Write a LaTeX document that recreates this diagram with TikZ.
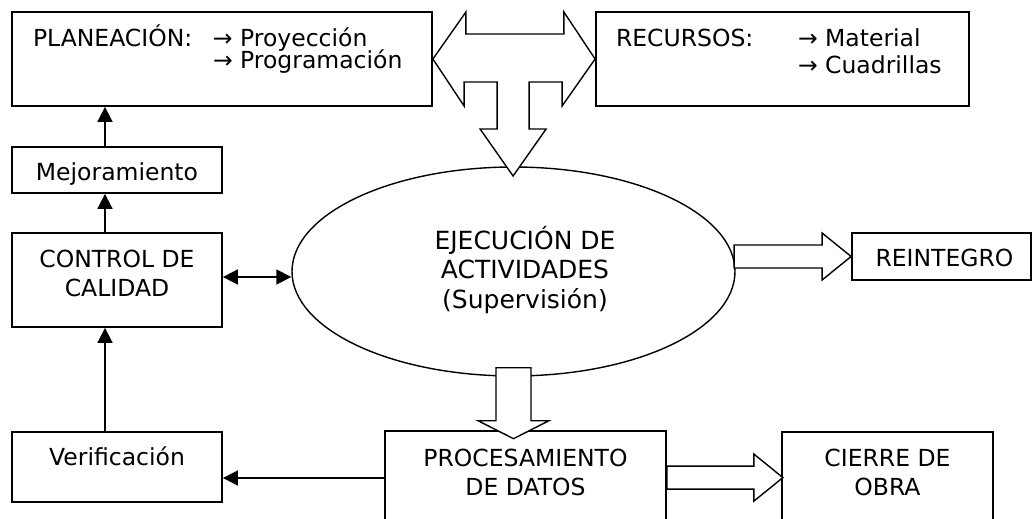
\documentclass[tikz,border=0pt]{standalone}
\usepackage{fontspec}
\setmainfont{DejaVu Sans}
\usepackage{tikz}
\usetikzlibrary{shapes, arrows.meta, positioning, calc}
\tikzstyle{caja} = [draw, line width=1.8pt, rectangle, inner xsep=0pt, inner ysep=0pt, font=\fontsize{23.5}{29}\selectfont]
\tikzstyle{elipse} = [draw, line width=1.4pt, ellipse, inner sep=0pt, font=\fontsize{25}{29.5}\selectfont]
\tikzstyle{bloque} = [draw, line width=1.4pt, fill=white, line join=miter]
\tikzstyle{flecha} = [line width=1.7pt, -{Triangle[length=15pt,width=15pt]}]
\newcommand{\renglones}[1]{\begin{tabular}[t]{@{}c@{}}#1\end{tabular}}

\begin{document}
\begin{tikzpicture}[x=1pt, y=-1pt]
	\useasboundingbox (0,0) rectangle (1034,519);
	\clip (0,0) rectangle (1034,519);
	\node [caja, minimum width=420pt, inner xsep=21pt, text height=34.7pt, text depth=59.3pt, font=\fontsize{23.5}{21.7}\selectfont] (planeacion) at (222,59) {%
		\begin{tabular}[t]{@{}p{180pt}@{}p{198pt}@{}}
			PLANEACIÓN: & → Proyección\\
			& \smash{→ Programación}
		\end{tabular}};
	\node [caja, minimum width=373pt, inner xsep=20pt, text height=34.7pt, text depth=59.3pt, font=\fontsize{23.5}{27.3}\selectfont] (recursos) at (782.5,59) {%
		\begin{tabular}[t]{@{}p{182pt}@{}p{151pt}@{}}
			RECURSOS: & → Material\\
			& → Cuadrillas
		\end{tabular}};
	\node [caja, minimum width=210pt, text height=33pt, text depth=13pt] (mejora) at (117,170) {Mejoramiento};
	\node [caja, minimum width=210pt, text height=34pt, text depth=60pt] (control) at (117,280) {\renglones{CONTROL DE\\CALIDAD}};
	\node [caja, minimum width=210pt, text height=33pt, text depth=37pt] (verif) at (117,467) {Verificación};
	\node [elipse, minimum width=443pt, minimum height=209pt, text height=20pt, text depth=65pt] (ejec) at (513.5,271.5) {\hspace*{23pt}\renglones{EJECUCIÓN DE\\ACTIVIDADES\\(Supervisión)}};
	\node [caja, minimum width=179pt, text height=33pt, text depth=14pt] (reint) at (941.5,256.5) {\hspace*{6pt}REINTEGRO};
	\node [caja, minimum width=281pt, text height=35pt, text depth=94pt] (proc) at (525.5,495.5) {\renglones{PROCESAMIENTO\\DE DATOS}};
	\node [caja, minimum width=211pt, text height=34pt, text depth=94pt] (cierre) at (887.5,496) {\renglones{CIERRE DE\\OBRA}};

	\draw [bloque] (planeacion.east) -- ++(33,-47) -- ++(0,22) -- ++(98,0) -- ++(0,-22) -- (recursos.west)
		-- ++(-33,47) -- ++(0,-24) -- ++(-33,0) -- ++(0,47) -- ++(17,0) -- ++(-33,47) -- ++(-33,-47)
		-- ++(17,0) -- ++(0,-47) -- ++(-33,0) -- ++(0,24) -- cycle;
	\draw [bloque] ([shift={(-17.5,-9)}]ejec.south) -- ++(35,0) -- ++(0,53) -- ++(18,0) -- ++(-35.5,18) -- ++(-35.5,-18) -- ++(18,0) -- cycle;
	\draw [bloque] (reint.west) -- ++(-29,-23.5) -- ++(0,12) -- ++(-88,0) -- ++(0,23) -- ++(88,0) -- ++(0,12) -- cycle;
	\draw [bloque] ([yshift=-36pt]proc.north east) -- ++(87,0) -- ++(0,-12) -- ++(29,23.5) -- ++(-29,23.5) -- ++(0,-12) -- ++(-87,0) -- cycle;

	\draw [flecha] ([xshift=-12pt]verif.north) -- ([xshift=-12pt]control.south);
	\draw [flecha] ([xshift=-12pt]control.north) -- ([xshift=-12pt]mejora.south);
	\draw [flecha] ([xshift=-12pt]mejora.north) -- ([xshift=-12pt]mejora.north |- planeacion.south);
	\draw [flecha, {Triangle[length=15pt,width=15pt]}-{Triangle[length=15pt,width=15pt]}] ([yshift=3pt]control.east) -- ([yshift=3pt]control.east -| ejec.west);
	\draw [flecha] ([yshift=-11pt]verif.east -| proc.west) -- ([yshift=-11pt]verif.east);
\end{tikzpicture}
\end{document}
